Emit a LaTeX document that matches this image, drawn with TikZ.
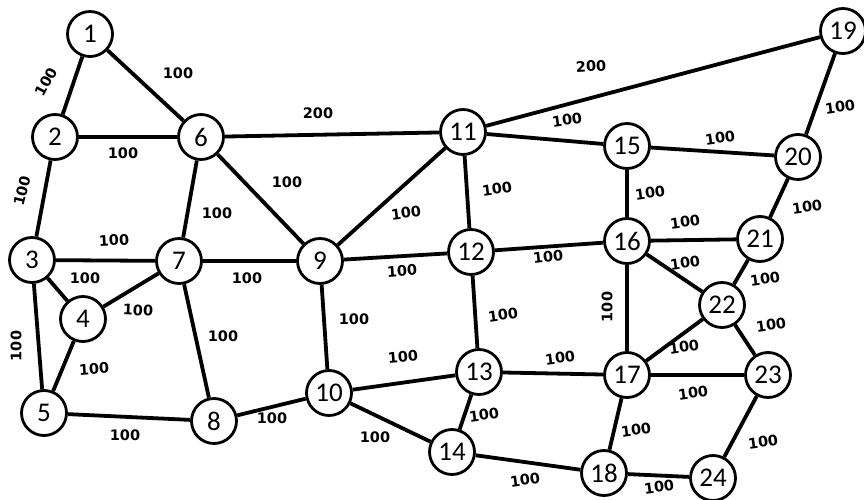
\documentclass[tikz,border=0pt]{standalone}
\usepackage{fontspec}
\usetikzlibrary{backgrounds}
\newfontfamily\nodefont{Carlito}
\newfontfamily\lblfont{DejaVu Sans}
\begin{document}
\begin{tikzpicture}[x=1pt,y=-1pt,
  vert/.style={circle,draw=black,line width=2.8pt,fill=white,minimum size=45pt,inner sep=0pt,font=\nodefont\fontsize{27}{27}\selectfont},
  lbl/.style={inner sep=0pt,font=\lblfont\bfseries\fontsize{14.5}{15}\selectfont},
  edge/.style={line width=3.8pt,black}]
\useasboundingbox (0,0) rectangle (864,500);
% vertices
\node[vert] (n1) at (90,34) {1};
\node[vert] (n2) at (55,137) {2};
\node[vert] (n3) at (32,260) {3};
\node[vert] (n4) at (83,319) {4};
\node[vert] (n5) at (44,413) {5};
\node[vert] (n6) at (201,137) {6};
\node[vert] (n7) at (179,261) {7};
\node[vert] (n8) at (214,421) {8};
\node[vert] (n9) at (320,261) {9};
\node[vert] (n10) at (329,393) {10};
\node[vert] (n11) at (463,132) {11};
\node[vert] (n12) at (471,252) {12};
\node[vert] (n13) at (479,372) {13};
\node[vert] (n14) at (452,452) {14};
\node[vert] (n15) at (627,146) {15};
\node[vert] (n16) at (627,241) {16};
\node[vert] (n17) at (627,375) {17};
\node[vert] (n18) at (604,473) {18};
\node[vert] (n19) at (843,31) {19};
\node[vert] (n20) at (798,157) {20};
\node[vert] (n21) at (760,239) {21};
\node[vert] (n22) at (722,305) {22};
\node[vert] (n23) at (768,375) {23};
\node[vert] (n24) at (713,478) {24};
% edges
\begin{scope}[on background layer]
\foreach \a/\b in {1/2,1/6,2/6,2/3,6/11,6/7,6/9,3/7,3/4,4/7,3/5,4/5,7/9,7/8,5/8,8/10,9/10,9/11,9/12,11/12,11/19,11/15,15/20,19/20,15/16,20/21,16/21,12/16,12/13,10/13,10/14,13/14,13/17,14/18,16/22,21/22,22/23,16/17,17/22,17/23,17/18,23/24,18/24}
  \draw[edge] (n\a) -- (n\b);
\end{scope}
% labels
\node[lbl,rotate=62] (l12) at (46,82) {100};
\node[lbl] (l16) at (178,73) {100};
\node[lbl] (l26) at (123,153) {100};
\node[lbl,rotate=76] (l23) at (22,191) {100};
\node[lbl] (l611) at (318,113) {200};
\node[lbl] (l67) at (217,213) {100};
\node[lbl] (l69) at (287,182) {100};
\node[lbl,rotate=3] (l37) at (114,240) {100};
\node[lbl] (l34) at (85,278) {100};
\node[lbl,rotate=-3] (l47) at (138,310) {100};
\node[lbl] (l79) at (247,278) {100};
\node[lbl,rotate=90] (l35) at (16,346) {100};
\node[lbl,rotate=4] (l45) at (94,369) {100};
\node[lbl] (l78) at (223,336) {100};
\node[lbl] (l58) at (125,435) {100};
\node[lbl] (l810) at (272,418) {100};
\node[lbl] (l910) at (354,319) {100};
\node[lbl,rotate=8] (l911) at (406,213) {100};
\node[lbl,rotate=4] (l912) at (402,271) {100};
\node[lbl,rotate=8] (l1112) at (497,189) {100};
\node[lbl,rotate=3] (l1119) at (591,66) {200};
\node[lbl,rotate=8] (l1115) at (567,120) {100};
\node[lbl,rotate=8] (l1520) at (720,138) {100};
\node[lbl,rotate=8] (l1920) at (840,107) {100};
\node[lbl,rotate=8] (l1516) at (650,193) {100};
\node[lbl,rotate=8] (l2021) at (807,207) {100};
\node[lbl,rotate=8] (l1621) at (685,222) {100};
\node[lbl,rotate=6] (l1216) at (548,257) {100};
\node[lbl,rotate=8] (l1213) at (503,315) {100};
\node[lbl,rotate=5] (l1013) at (403,357) {100};
\node[lbl,rotate=8] (l1317) at (560,358) {100};
\node[lbl,rotate=8] (l1314) at (484,415) {100};
\node[lbl] (l1014) at (375,437) {100};
\node[lbl,rotate=8] (l1418) at (525,480) {100};
\node[lbl,rotate=8] (l1622) at (685,263) {100};
\node[lbl,rotate=8] (l2122) at (765,279) {100};
\node[lbl,rotate=8] (l2223) at (771,325) {100};
\node[lbl,rotate=90] (l1617) at (607,307) {100};
\node[lbl,rotate=8] (l1722) at (684,347) {100};
\node[lbl,rotate=8] (l1723) at (693,393) {100};
\node[lbl,rotate=8] (l1718) at (636,430) {100};
\node[lbl,rotate=8] (l2324) at (763,442) {100};
\node[lbl,rotate=8] (l1824) at (659,487) {100};
\end{tikzpicture}
\end{document}
